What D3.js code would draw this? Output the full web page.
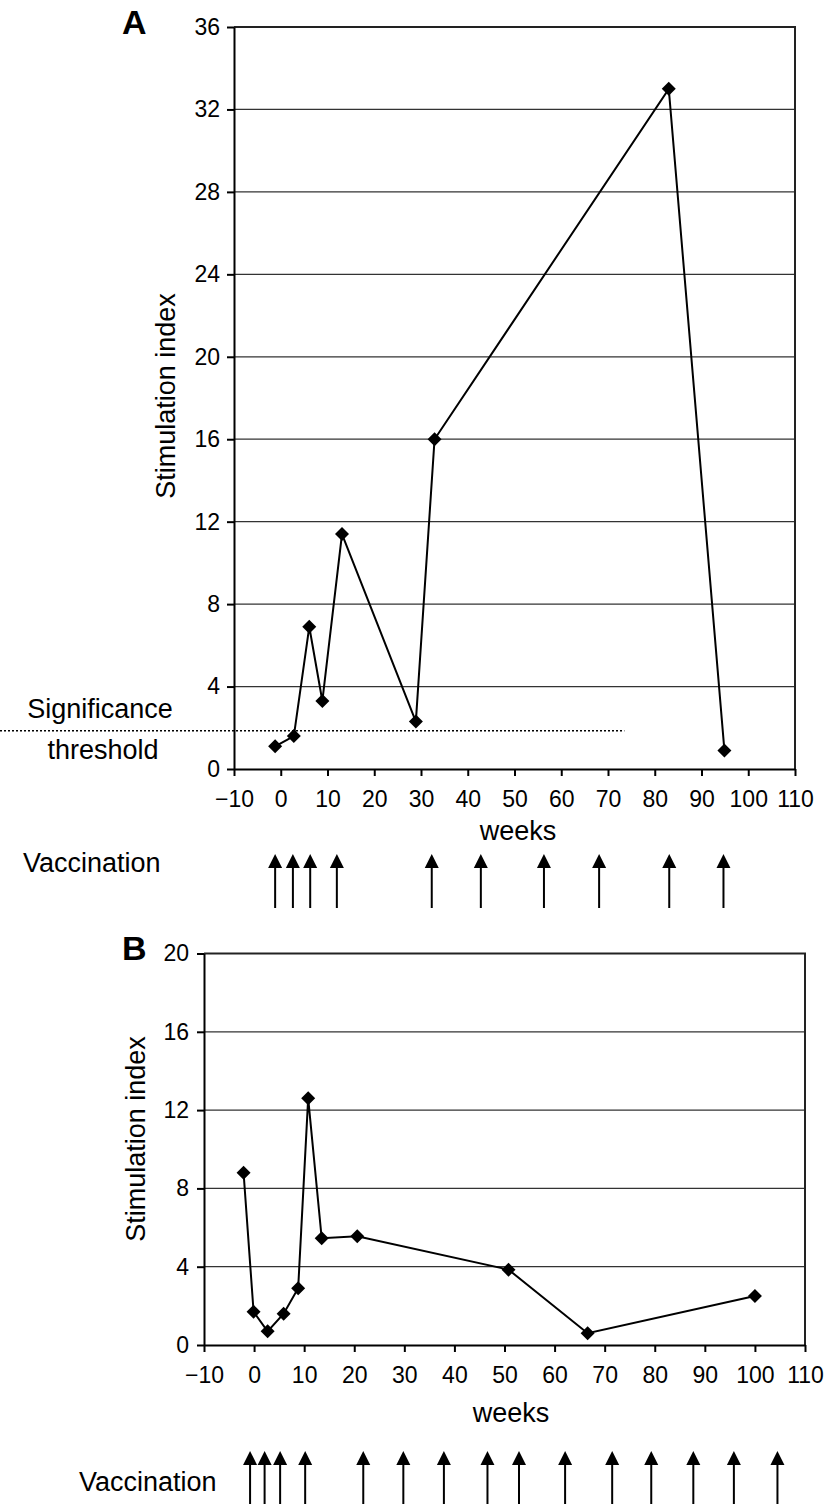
<!DOCTYPE html>
<html>
<head>
<meta charset="utf-8">
<script src="https://cdn.jsdelivr.net/npm/d3@7"></script>
<style>
	body { margin: 0; background: #fff; }
	svg { display: block; font-family: "Liberation Sans", Arial, sans-serif; }
</style>
</head>
<body>
<svg id="chart" width="826" height="1504"></svg>
<script>
// Panel A
const weeksA = [-1.2, 2.8, 6.1, 8.9, 13.1, 28.9, 32.9, 83, 94.9]
const indexA = [1.1, 1.6, 6.9, 3.3, 11.4, 2.3, 16, 33, 0.9]
const vaccA = [-1.2, 2.6, 6.3, 12, 32.3, 42.8, 56.3, 68.1, 83.1, 94.7]
const yTicksA = [0, 4, 8, 12, 16, 20, 24, 28, 32, 36]

// Panel B
const weeksB = [-2.1, -0.1, 2.7, 5.9, 8.8, 10.8, 13.5, 20.6, 50.8, 66.6, 100]
const indexB = [8.8, 1.7, 0.7, 1.6, 2.9, 12.6, 5.45, 5.55, 3.85, 0.6, 2.5]
const vaccB = [-0.8, 2.1, 5.2, 10.2, 21.8, 29.8, 37.9, 46.6, 52.9, 62.1, 71.5, 79.3, 87.7, 95.8, 104.5]
const yTicksB = [0, 4, 8, 12, 16, 20]

const xTicks = [-10, 0, 10, 20, 30, 40, 50, 60, 70, 80, 90, 100, 110]
const threshold = 1.85
const thresholdEnd = 73.5

const svg = d3.select("#chart")

function panel(opts) {
	/* Draw one stimulation index panel with its vaccination arrows. */
	const x = d3.scaleLinear().domain([-10, 110]).range([opts.left, opts.right])
	const yMax = opts.yTicks[opts.yTicks.length - 1]
	const y = d3.scaleLinear().domain([0, yMax]).range([opts.bottom, opts.top])
	const g = svg.append("g")

	// gridlines
	g.selectAll("line.grid")
		.data(opts.yTicks.filter(d => d > 0 && d < yMax))
		.join("line")
		.attr("class", "grid")
		.attr("x1", opts.left).attr("x2", opts.right)
		.attr("y1", d => y(d)).attr("y2", d => y(d))
		.attr("stroke", "#333").attr("stroke-width", 1.2)

	// top and right frame
	g.append("path")
		.attr("d", `M${opts.left},${opts.top}H${opts.right}V${opts.bottom}`)
		.attr("fill", "none").attr("stroke", "#222").attr("stroke-width", 2)

	const xAxis = g.append("g")
		.attr("transform", `translate(0,${opts.bottom})`)
		.call(d3.axisBottom(x).tickValues(xTicks).tickSize(7).tickPadding(15).tickSizeOuter(0))
	const yAxis = g.append("g")
		.attr("transform", `translate(${opts.left},0)`)
		.call(d3.axisLeft(y).tickValues(opts.yTicks).tickSize(7).tickPadding(opts.yPad).tickSizeOuter(0))
	for (const ax of [xAxis, yAxis]) {
		ax.select(".domain").attr("stroke", "#000").attr("stroke-width", 2)
		ax.selectAll(".tick line").attr("stroke", "#000").attr("stroke-width", 2)
		ax.selectAll(".tick text").attr("fill", "#000").style("font-size", "23px")
	}

	// series
	const pts = opts.weeks.map((w, i) => [w, opts.values[i]])
	g.append("path")
		.datum(pts)
		.attr("fill", "none").attr("stroke", "#000").attr("stroke-width", 2)
		.attr("d", d3.line().x(d => x(d[0])).y(d => y(d[1])))
	g.selectAll("path.mark")
		.data(pts)
		.join("path")
		.attr("class", "mark")
		.attr("d", d3.symbol(d3.symbolSquare, 98))
		.attr("transform", d => `translate(${x(d[0])},${y(d[1])}) rotate(45)`)
		.attr("fill", "#000")

	// labels
	g.append("text")
		.text(opts.letter)
		.attr("x", 122).attr("y", opts.letterY)
		.style("font-size", "34px").style("font-weight", "bold")
	g.append("text")
		.text("Stimulation index")
		.attr("transform", `translate(${opts.yLabelX},${opts.yLabelY}) rotate(-90)`)
		.attr("text-anchor", "middle")
		.style("font-size", "27px")
	g.append("text")
		.text("weeks")
		.attr("x", opts.weeksX).attr("y", opts.bottom + opts.weeksDy)
		.attr("text-anchor", "middle")
		.style("font-size", "27px")
	g.append("text")
		.text("Vaccination")
		.attr("x", opts.vaccX).attr("y", opts.vaccY)
		.style("font-size", "27px")

	// vaccination arrows
	const arrows = g.selectAll("g.arrow")
		.data(opts.vacc)
		.join("g")
		.attr("class", "arrow")
		.attr("transform", d => `translate(${x(d)},${opts.arrowTop})`)
	arrows.append("line")
		.attr("y1", 10).attr("y2", opts.arrowLen)
		.attr("stroke", "#000").attr("stroke-width", 2)
	arrows.append("path")
		.attr("d", "M0,0L7,14L-7,14Z")
		.attr("fill", "#000")

	return { x, y, g }
}

const a = panel({
	letter: "A", letterY: 34,
	left: 234, right: 795, top: 27, bottom: 769,
	yTicks: yTicksA, yPad: 7,
	weeks: weeksA, values: indexA, vacc: vaccA,
	yLabelX: 175, yLabelY: 396,
	weeksX: 518, weeksDy: 71,
	vaccX: 23, vaccY: 872,
	arrowTop: 854, arrowLen: 54,
})

// significance threshold
a.g.append("line")
	.attr("x1", 0).attr("x2", a.x(thresholdEnd))
	.attr("y1", a.y(threshold)).attr("y2", a.y(threshold))
	.attr("stroke", "#000").attr("stroke-width", 1.5)
	.attr("stroke-dasharray", "2,2")
a.g.append("text")
	.text("Significance")
	.attr("x", 100).attr("y", 718)
	.attr("text-anchor", "middle")
	.style("font-size", "27px")
a.g.append("text")
	.text("threshold")
	.attr("x", 103).attr("y", 759)
	.attr("text-anchor", "middle")
	.style("font-size", "27px")

panel({
	letter: "B", letterY: 960,
	left: 204, right: 805, top: 953.5, bottom: 1345,
	yTicks: yTicksB, yPad: 8,
	weeks: weeksB, values: indexB, vacc: vaccB,
	yLabelX: 145, yLabelY: 1139,
	weeksX: 511, weeksDy: 77,
	vaccX: 79, vaccY: 1491,
	arrowTop: 1451, arrowLen: 60,
})
</script>
</body>
</html>
